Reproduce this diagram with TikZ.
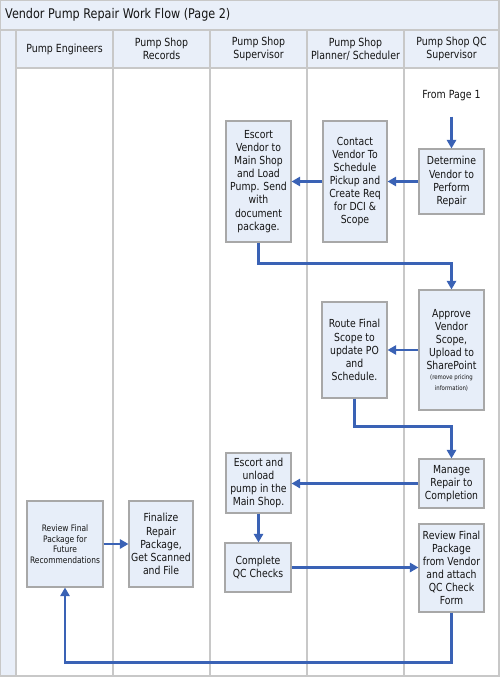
\documentclass[tikz,border=0pt]{standalone}
\usepackage{fontspec}
\setmainfont{DejaVu Sans}[FakeStretch=0.84]
\usetikzlibrary{arrows.meta,positioning,calc}

\definecolor{boxfill}{HTML}{E7EEF9}
\definecolor{bandfill}{HTML}{E9EFF9}
\definecolor{boxline}{HTML}{A8A8A8}
\definecolor{laneline}{HTML}{C8C8C8}
\definecolor{flowblue}{HTML}{3A62B5}
\definecolor{inktext}{HTML}{141414}

\begin{document}
\begin{tikzpicture}[x=0.75pt,y=-0.75pt,>={Triangle[length=6.5pt,width=7pt]},
  task/.style={draw=boxline,fill=boxfill,line width=0.8pt,align=center,inner sep=1pt,
    text=inktext,font=\fontsize{8.3}{9.8}\selectfont},
  hdr/.style={align=center,text=inktext,font=\fontsize{8.4}{9.8}\selectfont},
  flow/.style={->,draw=flowblue,line width=1.6pt},
  lane/.style={draw=laneline,line width=0.8pt}]
\useasboundingbox (0,0) rectangle (500,677);
% ---- bande e corsie ----
\fill[bandfill] (0,0) rectangle (499,68);
\fill[bandfill] (0,30) rectangle (16,676);
\draw[lane] (0.5,0.5) rectangle (499,676);
\draw[lane] (0,30) -- (499,30);
\draw[lane] (16,68) -- (499,68);
\foreach \lx in {16,113,210,307,404}
  \draw[lane] (\lx,30) -- (\lx,676);
\node[anchor=west,text=inktext,font=\fontsize{10}{11}\selectfont] (title) at (0.5,15) {Vendor Pump Repair Work Flow (Page 2)};
\node[hdr] (h1) at (64.5,49) {Pump Engineers};
\node[hdr] (h2) at (161.5,49) {Pump Shop\\Records};
\node[hdr] (h3) at (258.5,49) {Pump Shop\\Supervisor};
\node[hdr] (h4) at (355.5,49) {Pump Shop\\Planner/ Scheduler};
\node[hdr] (h5) at (451.5,49) {Pump Shop QC\\Supervisor};
% ---- attivita ----
\node[hdr] (from) at (451.5,96) {From Page 1};
\node[task,minimum width=48.75pt,minimum height=48.75pt] (det) at (451.5,181.5) {Determine\\Vendor to\\Perform\\Repair};
\node[task,minimum width=48pt,minimum height=90.75pt] (contact) at (355,181.5) {Contact\\Vendor To\\Schedule\\Pickup and\\Create Req\\for DCI \&\\Scope};
\node[task,minimum width=48.75pt,minimum height=90.75pt] (escort) at (258.5,181.5) {Escort\\Vendor to\\Main Shop\\and Load\\Pump. Send\\with\\document\\package.};
\node[task,minimum width=48.75pt,minimum height=90pt] (approve) at (451.5,350) {Approve\\Vendor\\Scope,\\Upload to\\SharePoint\\[-2pt]{\fontsize{4.8}{6}\selectfont (remove pricing}\\[-2pt]{\fontsize{4.8}{6}\selectfont information)}};
\node[task,minimum width=48.75pt,minimum height=72pt] (route) at (354.5,350) {Route Final\\Scope to\\update PO\\and\\Schedule.};
\node[task,minimum width=48.75pt,minimum height=36.75pt] (manage) at (451.5,483.5) {Manage\\Repair to\\Completion};
\node[task,minimum width=48.75pt,minimum height=45pt] (unload) at (258.5,483) {Escort and\\unload\\pump in the\\Main Shop.};
\node[task,minimum width=49.5pt,minimum height=36.75pt] (qccheck) at (258,567.5) {Complete\\QC Checks};
\node[task,minimum width=48.75pt,minimum height=66pt] (qcreview) at (451.5,568) {Review Final\\Package\\from Vendor\\and attach\\QC Check\\Form};
\node[task,minimum width=48pt,minimum height=64.5pt] (finalize) at (161,544) {Finalize\\Repair\\Package,\\Get Scanned\\and File};
\node[task,minimum width=57pt,minimum height=64.5pt,font=\fontsize{6.7}{8}\selectfont] (review) at (65,544) {Review Final\\Package for\\Future\\Recommendations};
% ---- frecce ----
\draw[flow] ([yshift=-8pt]from.south) -- (det.north);
\draw[flow] (det.west) -- (contact.east);
\draw[flow] (contact.west) -- (escort.east);
\draw[flow] (escort.south) -- ++(0,21) -| (approve.north);
\draw[flow] (approve.west) -- (route.east);
\draw[flow] (route.south) -- ++(0,28) -| (manage.north);
\draw[flow] (manage.west) -- (manage.west -| unload.east);
\draw[flow] (unload.south) -- (unload.south |- qccheck.north);
\draw[flow] (qccheck.east) -- (qccheck.east -| qcreview.west);
\draw[flow] (qcreview.south) -- ++(0,50) -| (review.south);
\draw[flow] (review.east) -- (finalize.west);
\end{tikzpicture}
\end{document}
